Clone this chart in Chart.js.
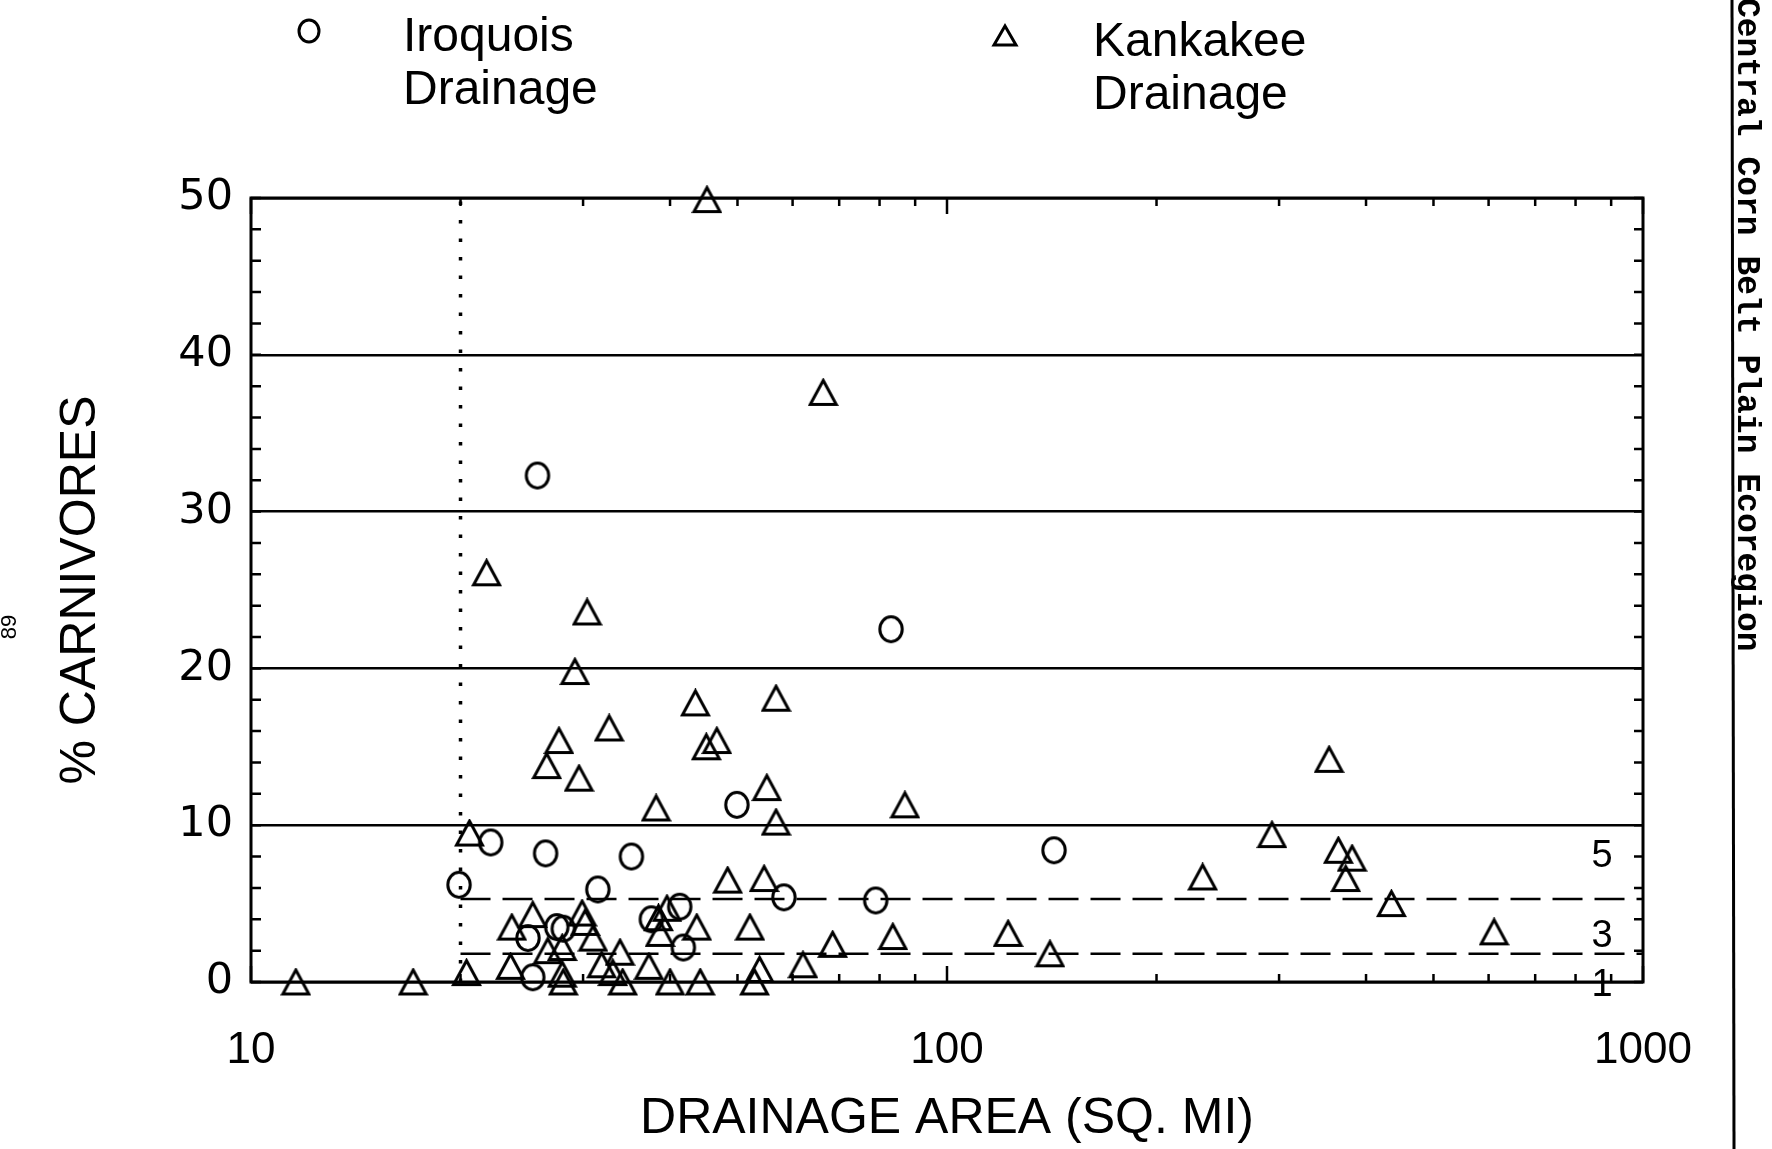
<!DOCTYPE html>
<html>
<head>
<meta charset="utf-8">
<title>% Carnivores vs drainage area</title>
<script src="https://cdn.jsdelivr.net/npm/chart.js@4.4.1/dist/chart.umd.min.js"></script>
<style>
  html, body { margin: 0; padding: 0; background: #fff; }
  #wrap { width: 1772px; height: 1149px; }
</style>
</head>
<body>
<div id="wrap"><canvas id="carnChart" width="1772" height="1149"></canvas></div>
<script>
// values: drainage area (sq. mi) vs % carnivores
const iroquoisArea = [19.9, 22.1, 25.8, 26.5, 25.0, 25.4, 27.5, 28.1, 31.5, 35.2, 37.6, 41.3, 41.8, 49.9, 58.3, 79.0, 83.1, 142.5];
const iroquoisPct  = [6.2, 8.9, 32.3, 8.2, 2.8, 0.3, 3.5, 3.4, 5.9, 8.0, 4.0, 4.8, 2.2, 11.3, 5.4, 5.2, 22.5, 8.4];

const kankakeeArea = [11.6, 17.1, 20.4, 20.6, 21.8, 23.6, 23.7, 25.4, 26.6, 26.7,
                      27.7, 28.0, 28.0, 28.1, 29.2, 29.6, 29.9, 30.2, 30.4, 31.0,
                      31.9, 32.7, 33.1, 33.9, 34.2, 37.3, 38.2, 38.5, 38.7, 39.6,
                      40.0, 43.5, 43.7, 44.2, 45.1, 45.2, 46.7, 48.4, 52.1, 52.9,
                      53.8, 54.6, 55.1, 56.8, 56.8, 62.1, 66.4, 68.5, 83.6, 87.0,
                      122.4, 140.6, 233, 293, 354, 365, 374, 382, 435, 611];
const kankakeePct  = [0, 0, 0.6, 9.5, 26.1, 1.0, 3.5, 4.3, 13.8, 2.0,
                      15.4, 2.2, 0.5, 0, 19.8, 13.0, 4.4, 3.8, 23.6, 2.8,
                      1.1, 16.2, 0.6, 1.9, 0, 1.0, 11.1, 4.1, 3.1, 4.7,
                      0, 17.8, 3.5, 0, 15.0, 49.9, 15.4, 6.5, 3.5, 0,
                      0.8, 6.6, 12.4, 18.1, 10.2, 1.1, 37.6, 2.4, 2.9, 11.3,
                      3.1, 1.8, 6.7, 9.4, 14.2, 8.4, 6.6, 7.9, 5.0, 3.2];

const seriesNames = ['Iroquois Drainage', 'Kankakee Drainage'];

const xTickValues = [10, 20, 30, 40, 50, 60, 70, 80, 90, 100, 200, 300, 400, 500, 600, 700, 800, 900, 1000];
const xTickLabels = ['10', '100', '1000'];
const yLabelEvery = 10;

// scoring lines: dotted minimum area, dashed 5/3/1 boundaries
const minArea = 20;
const areaRange = [20, 1000];
const scoreBounds = [5.3, 1.8];
const scoreLabels = ['5', '3', '1'];
const scoreLabelPct = [8.0, 2.9, -0.2];

const sideText = 'Central Corn Belt Plain Ecoregion';
const pageNumber = '89';

const toPoints = (xs, ys) => xs.map((v, i) => ({ x: v, y: ys[i] }));

const ink = '#000';
const sans = "'Liberation Sans', Arial, sans-serif";

// hand-drawn style markers, centred on their bounding box like the plotter symbols
function markCanvas(w, h, draw) {
  const c = document.createElement('canvas');
  c.width = w; c.height = h;
  const g = c.getContext('2d');
  g.strokeStyle = ink;
  g.lineWidth = 3;
  g.lineJoin = 'miter';
  g.beginPath();
  draw(g);
  g.stroke();
  return c;
}
const circleMark = markCanvas(28, 30, g => g.ellipse(14, 15, 11.2, 12.4, 0, 0, Math.PI * 2));
const triangleMark = markCanvas(31, 29, g => {
  g.moveTo(15.5, 2.5);
  g.lineTo(28.5, 26.5);
  g.lineTo(2.5, 26.5);
  g.closePath();
});

const frameAndTicks = {
  id: 'frameAndTicks',
  beforeDatasetsDraw(chart) {
    const { ctx, chartArea: a, scales: { x, y } } = chart;
    ctx.save();
    ctx.strokeStyle = ink;
    ctx.lineWidth = 3;
    ctx.strokeRect(a.left, a.top, a.right - a.left, a.bottom - a.top);
    ctx.lineWidth = 2.5;
    ctx.beginPath();
    x.ticks.forEach(t => {
      const px = x.getPixelForValue(t.value);
      const lg = Math.log10(t.value);
      const len = Math.abs(lg - Math.round(lg)) < 1e-9 ? 16 : 8;
      ctx.moveTo(px, a.top); ctx.lineTo(px, a.top + len);
      ctx.moveTo(px, a.bottom); ctx.lineTo(px, a.bottom - len);
    });
    y.ticks.forEach(t => {
      const py = y.getPixelForValue(t.value);
      ctx.moveTo(a.left, py); ctx.lineTo(a.left + 10, py);
      ctx.moveTo(a.right, py); ctx.lineTo(a.right - 9, py);
    });
    ctx.stroke();

    ctx.fillStyle = ink;
    ctx.font = '38px ' + sans;
    ctx.textAlign = 'center';
    ctx.textBaseline = 'middle';
    scoreLabels.forEach((s, i) => {
      ctx.fillText(s, a.right - 41, y.getPixelForValue(scoreLabelPct[i]));
    });
    ctx.restore();
  },
  afterDraw(chart) {
    const { ctx } = chart;
    ctx.save();
    ctx.strokeStyle = ink;
    ctx.fillStyle = ink;
    ctx.lineWidth = 3;

    // legend, two lines per entry
    const entries = [
      { style: 'circle', mx: 309, my: 31, tx: 403, ty: 51 },
      { style: 'triangle', mx: 1005, my: 36, tx: 1093, ty: 56 }
    ];
    ctx.font = '48px ' + sans;
    ctx.textAlign = 'left';
    ctx.textBaseline = 'alphabetic';
    entries.forEach((e, i) => {
      ctx.beginPath();
      if (e.style === 'circle') {
        ctx.ellipse(e.mx, e.my, 10, 11, 0, 0, Math.PI * 2);
      } else {
        ctx.moveTo(e.mx, e.my - 10);
        ctx.lineTo(e.mx + 11, e.my + 9);
        ctx.lineTo(e.mx - 11, e.my + 9);
        ctx.closePath();
      }
      ctx.stroke();
      const words = seriesNames[i].split(' ');
      ctx.fillText(words[0], e.tx, e.ty);
      ctx.fillText(words[1], e.tx, e.ty + 53);
    });

    // right-hand running header
    ctx.beginPath();
    ctx.moveTo(1732, 0);
    ctx.lineTo(1734, 1149);
    ctx.stroke();
    ctx.save();
    ctx.translate(1738, -2);
    ctx.rotate(Math.PI / 2);
    ctx.font = "bold 33px 'Liberation Mono', 'DejaVu Sans Mono', monospace";
    ctx.fillText(sideText, 0, 0);
    ctx.restore();

    // page number in the left margin
    ctx.save();
    ctx.translate(10, 627);
    ctx.rotate(-Math.PI / 2);
    ctx.font = '22px ' + sans;
    ctx.textAlign = 'center';
    ctx.textBaseline = 'middle';
    ctx.fillText(pageNumber, 0, 0);
    ctx.restore();

    ctx.restore();
  }
};

const lineSet = (pts, dash, width) => ({
  type: 'scatter',
  data: pts,
  showLine: true,
  pointRadius: 0,
  borderColor: ink,
  borderWidth: width,
  borderDash: dash,
  borderCapStyle: 'butt',
  fill: false,
  clip: false
});

new Chart(document.getElementById('carnChart'), {
  type: 'scatter',
  data: {
    datasets: [
      {
        label: seriesNames[0],
        data: toPoints(iroquoisArea, iroquoisPct),
        pointStyle: circleMark,
        pointRadius: 12,
        borderColor: ink,
        backgroundColor: 'rgba(0,0,0,0)',
        borderWidth: 3,
        clip: false
      },
      {
        label: seriesNames[1],
        data: toPoints(kankakeeArea, kankakeePct),
        pointStyle: triangleMark,
        pointRadius: 14,
        borderColor: ink,
        backgroundColor: 'rgba(0,0,0,0)',
        borderWidth: 3,
        clip: false
      },
      lineSet([{ x: minArea, y: 0 }, { x: minArea, y: 50 }], [3.5, 15], 3.5),
      lineSet(areaRange.map(v => ({ x: v, y: scoreBounds[0] })), [30, 12], 2.5),
      lineSet(areaRange.map(v => ({ x: v, y: scoreBounds[1] })), [30, 12], 2.5)
    ]
  },
  options: {
    responsive: false,
    animation: false,
    events: [],
    layout: { padding: { top: 198, right: 129, bottom: 0, left: 0 } },
    plugins: {
      legend: { display: false },
      tooltip: { enabled: false }
    },
    scales: {
      x: {
        type: 'logarithmic',
        min: 10,
        max: 1000,
        afterFit: s => { s.height = 167; },
        afterBuildTicks: s => { s.ticks = xTickValues.map(v => ({ value: v })); },
        grid: { display: false, drawTicks: false },
        border: { display: false },
        ticks: {
          autoSkip: false,
          maxRotation: 0,
          padding: 42,
          color: ink,
          font: { family: sans, size: 44 },
          callback: v => xTickLabels.includes(String(v)) ? String(v) : ''
        },
        title: {
          display: true,
          text: 'DRAINAGE AREA (SQ. MI)',
          color: ink,
          font: { family: sans, size: 50 },
          padding: { top: 0, bottom: 0 }
        }
      },
      y: {
        min: 0,
        max: 50,
        afterFit: s => { s.width = 251; },
        grid: {
          drawTicks: false,
          lineWidth: 2.5,
          color: c => (c.tick && c.tick.value % yLabelEvery === 0) ? ink : 'rgba(0,0,0,0)'
        },
        border: { display: false },
        ticks: {
          stepSize: 2,
          autoSkip: false,
          padding: 18,
          color: ink,
          font: { family: "'DejaVu Sans', sans-serif", size: 43 },
          callback: v => v % yLabelEvery === 0 ? v : ''
        },
        title: {
          display: true,
          text: '% CARNIVORES',
          color: ink,
          font: { family: sans, size: 50 },
          padding: { top: 51, bottom: 0 }
        }
      }
    }
  },
  plugins: [frameAndTicks]
});
</script>
</body>
</html>
